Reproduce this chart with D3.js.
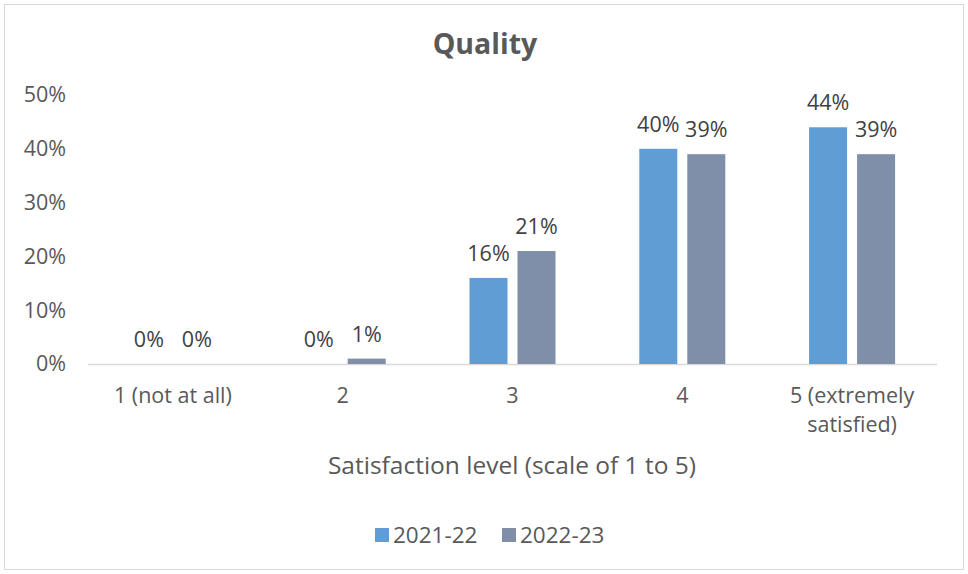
<!DOCTYPE html>
<html>
<head>
<meta charset="utf-8">
<script src="https://cdn.jsdelivr.net/npm/d3@7/dist/d3.min.js"></script>
<style>
  html, body { margin: 0; padding: 0; background: #fff; }
  svg { display: block; font-family: "Open Sans", "Noto Sans", sans-serif; }
</style>
</head>
<body>
<svg id="chart" width="968" height="574"></svg>
<script>
// Chart data
const categories = ["1 (not at all)", "2", "3", "4", "5 (extremely satisfied)"];
const seriesNames = ["2021-22", "2022-23"];
const values2021 = [0, 0, 16, 40, 44];
const values2022 = [0, 1, 21, 39, 39];
const yTicks = [0, 10, 20, 30, 40, 50];
const seriesColors = ["#5f9dd4", "#7f8fa9"];

const svg = d3.select("#chart");
const W = 968, H = 574;
const margin = { left: 88, right: 31, top: 95, bottom: 210 };
const plotW = W - margin.left - margin.right;
const FS = 21.5;

// outer frame
svg.append("rect")
  .attr("x", 4.5).attr("y", 4.5)
  .attr("width", W - 9).attr("height", H - 9)
  .attr("fill", "#fff").attr("stroke", "#d9d9d9").attr("stroke-width", 1);

const x0 = d3.scaleBand().domain(categories)
  .range([margin.left, margin.left + plotW]).paddingInner(0).paddingOuter(0);
const x1 = d3.scaleBand().domain(seriesNames)
  .range([0, x0.bandwidth()]).paddingInner(0.208).paddingOuter(0.873);
const y = d3.scaleLinear().domain([0, 50]).range([364, 95]);

// title
svg.append("text")
  .attr("x", 485).attr("y", 54)
  .attr("text-anchor", "middle")
  .attr("font-size", 28.5).attr("font-weight", "bold")
  .attr("fill", "#595959")
  .text("Quality");

// y axis (labels only)
const yAxis = d3.axisLeft(y).tickValues(yTicks).tickFormat(d => d + "%").tickSize(0).tickPadding(0);
const gy = svg.append("g").attr("transform", "translate(66,0)").call(yAxis);
gy.select(".domain").remove();
gy.selectAll("text").attr("font-size", FS).attr("fill", "#595959")
  .attr("font-family", "'Open Sans', 'Noto Sans', sans-serif");

// baseline
svg.append("line")
  .attr("x1", margin.left).attr("x2", margin.left + plotW)
  .attr("y1", y(0) + 0.5).attr("y2", y(0) + 0.5)
  .attr("stroke", "#d9d9d9").attr("stroke-width", 1.5);

// bars
const rows = categories.map((c, i) => ({ cat: c, vals: [values2021[i], values2022[i]] }));
const groups = svg.append("g").selectAll("g").data(rows).join("g")
  .attr("transform", d => `translate(${x0(d.cat)},0)`);

groups.selectAll("rect").data(d => d.vals.map((v, j) => ({ v, s: seriesNames[j], j })))
  .join("rect")
  .attr("x", d => x1(d.s))
  .attr("width", x1.bandwidth())
  .attr("y", d => y(d.v))
  .attr("height", d => y(0) - y(d.v))
  .attr("fill", d => seriesColors[d.j]);

// value labels
groups.selectAll("text.val").data(d => d.vals.map((v, j) => ({ v, s: seriesNames[j], j })))
  .join("text").attr("class", "val")
  .attr("x", d => x1(d.s) + x1.bandwidth() / 2)
  .attr("y", d => y(d.v) - 17)
  .attr("text-anchor", "middle")
  .attr("font-size", FS).attr("fill", "#404040")
  .text(d => d.v + "%");

// category labels (wrapped)
const catLines = { "5 (extremely satisfied)": ["5 (extremely", "satisfied)"] };
const gx = svg.append("g");
categories.forEach(c => {
  const lines = catLines[c] || [c];
  const t = gx.append("text")
    .attr("x", x0(c) + x0.bandwidth() / 2).attr("y", 403)
    .attr("text-anchor", "middle").attr("font-size", FS).attr("fill", "#595959");
  lines.forEach((l, k) => t.append("tspan")
    .attr("x", x0(c) + x0.bandwidth() / 2).attr("dy", k === 0 ? 0 : 29).text(l));
});

// axis title
svg.append("text")
  .attr("x", 512).attr("y", 474)
  .attr("text-anchor", "middle").attr("font-size", 24.5).attr("fill", "#595959")
  .text("Satisfaction level (scale of 1 to 5)");

// legend
const legend = svg.append("g");
const legendX = [375, 502];
seriesNames.forEach((s, j) => {
  legend.append("rect").attr("x", legendX[j]).attr("y", 528)
    .attr("width", 14).attr("height", 14).attr("fill", seriesColors[j]);
  legend.append("text").attr("x", legendX[j] + 18).attr("y", 543)
    .attr("font-size", 22.5).attr("fill", "#595959").text(s);
});
</script>
</body>
</html>
